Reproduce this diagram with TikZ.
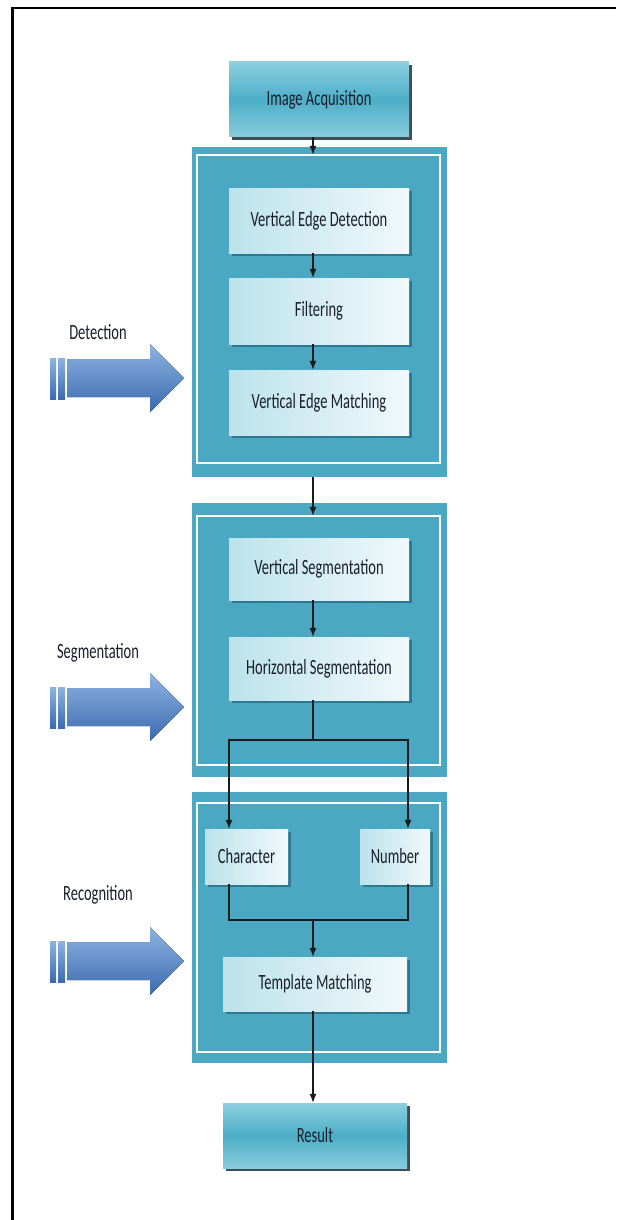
\documentclass[tikz,border=0pt]{standalone}
\usepackage{fontspec}
\setmainfont{Carlito}
\usepackage{graphicx}
\usetikzlibrary{shadows,arrows.meta,calc}
\definecolor{panelc}{HTML}{4AA8C3}
\definecolor{tealL}{HTML}{8CCFE0}
\definecolor{tealM}{HTML}{4CAEC7}
\definecolor{tealB}{HTML}{88CBDC}
\definecolor{tshadow}{HTML}{3C4F56}
\definecolor{wboxL}{HTML}{BCE2EB}
\definecolor{wboxR}{HTML}{F1F9FB}
\definecolor{wshadow}{HTML}{2C7890}
\definecolor{textc}{HTML}{1A1F2C}
\definecolor{linec}{HTML}{1A1A1A}
\definecolor{arrL}{HTML}{8DB3E2}
\definecolor{arrD}{HTML}{3B6BAE}
\newcommand\vst[1]{\scalebox{1}[1.5]{#1}}
\newcommand\sidearrow[1]{%
  \begin{scope}[shift={(0,#1)}]
    \fill[top color=arrL, bottom color=arrD] (50,-20) rectangle (56,21);
    \fill[top color=arrL, bottom color=arrD] (58,-20) rectangle (65,21);
    \fill[top color=arrL, bottom color=arrD] (67,-19) -- (150,-19) -- (150,-34) -- (184,0) -- (150,34) -- (150,19) -- (67,19) -- cycle;
  \end{scope}}
\begin{document}
\begin{tikzpicture}[x=1pt,y=-1pt,
  txt/.style={font=\fontsize{14.5}{16}\selectfont, text=textc},
  tealbox/.style={txt, rectangle, inner sep=0pt, minimum width=180pt,
    top color=tealL, bottom color=tealB, middle color=tealM,
    drop shadow={shadow xshift=3pt, shadow yshift=-3pt, fill=tshadow, opacity=1}},
  wbox/.style={txt, rectangle, inner sep=0pt, minimum width=180pt,
    left color=wboxL, right color=wboxR,
    drop shadow={shadow xshift=2.5pt, shadow yshift=-3pt, fill=wshadow, opacity=1}},
  panel/.style={rectangle, inner sep=0pt, fill=panelc, minimum width=255pt},
  inline/.style={draw=white, line width=1.8pt},
  conn/.style={draw=linec, line width=1.2pt},
  arr/.style={conn, -{Latex[length=9pt,width=7pt]}},
  side/.style={txt, inner sep=0pt}]
\useasboundingbox (0,0) rectangle (616,1220);
\fill[white] (0,0) rectangle (616,1220);
\draw[line width=2.5pt] (12.5,1220) -- (12.5,8) -- (616,8);

\coordinate (ax) at (313,0);

% top box
\node[tealbox, minimum height=75pt] (ia) at (319,99.5) {\vst{Image Acquisition}};

% panels
\node[panel, minimum height=330pt] (p1) at (319.5,312) {};
\draw[inline] ([shift={(5,8)}]p1.north west) rectangle ([shift={(-7,-14)}]p1.south east);
\node[panel, minimum height=274pt] (p2) at (319.5,640) {};
\draw[inline] ([shift={(5,13)}]p2.north west) rectangle ([shift={(-7,-12)}]p2.south east);
\node[panel, minimum height=271pt] (p3) at (319.5,927.5) {};
\draw[inline] ([shift={(5,11)}]p3.north west) rectangle ([shift={(-7,-11)}]p3.south east);

% detection boxes
\node[wbox, minimum height=65pt] (ved) at (319,220.5) {\vst{Vertical Edge Detection}};
\node[wbox, minimum height=66pt] (fil) at (319,311) {\vst{Filtering}};
\node[wbox, minimum height=65pt] (vem) at (319,402.5) {\vst{Vertical Edge Matching}};

% segmentation boxes
\node[wbox, minimum height=62pt] (vs) at (319,569) {\vst{Vertical Segmentation}};
\node[wbox, minimum height=63pt] (hs) at (319,668.5) {\vst{Horizontal Segmentation}};

% recognition boxes
\node[wbox, minimum width=83pt, minimum height=55pt] (ch) at (246.5,856.5) {\vst{Character}};
\node[wbox, minimum width=70pt, minimum height=55pt] (nu) at (395,856.5) {\vst{Number}};
\node[wbox, minimum width=184pt, minimum height=54pt] (tm) at (315,984) {\vst{Template Matching}};

% result
\node[tealbox, minimum width=184pt, minimum height=65pt] (res) at (315,1135.5) {\vst{Result}};

% coordinates for connectors
\coordinate (p1in) at ($(p1.north west)+(0,8)$);
\coordinate (p2in) at ($(p2.north west)+(0,13)$);
\coordinate (bL) at (229,740);
\coordinate (bR) at (408,740);
\coordinate (mg) at (313,920);

% connectors
\draw[arr] (ia.south -| ax) -- (p1in -| ax);
\draw[arr] (ved.south -| ax) -- (fil.north -| ax);
\draw[arr] (fil.south -| ax) -- (vem.north -| ax);
\draw[arr] (p1.south -| ax) -- (p2in -| ax);
\draw[arr] (vs.south -| ax) -- (hs.north -| ax);
\draw[conn] (hs.south -| ax) -- (bL -| ax);
\draw[arr] (bL -| ax) -- (bL) -- (bL |- ch.north);
\draw[arr] (bR -| ax) -- (bR) -- (bR |- nu.north);
\draw[conn] (bL |- ch.south) -- (bL |- mg) -- (bR |- mg) -- (bR |- nu.south);
\draw[arr] (mg) -- (tm.north -| mg);
\draw[arr] (tm.south -| ax) -- (res.north -| ax);

% side arrows and labels
\sidearrow{378}
\sidearrow{707}
\sidearrow{961}
\node[side] (ldet) at (98,332) {\vst{Detection}};
\node[side] (lseg) at (98,653) {\vst{Segmentation}};
\node[side] (lrec) at (98,895) {\vst{Recognition}};
\end{tikzpicture}
\end{document}
